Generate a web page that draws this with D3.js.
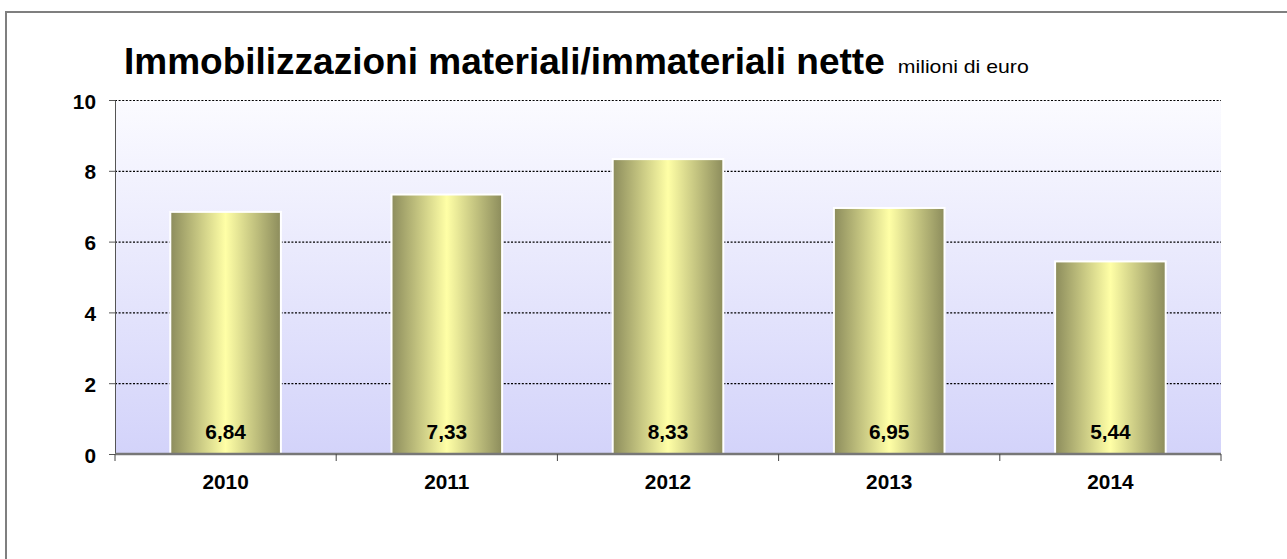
<!DOCTYPE html>
<html>
<head>
<meta charset="utf-8">
<script src="https://cdn.jsdelivr.net/npm/d3@7"></script>
<style>
  body { margin:0; background:#fff; }
  svg { display:block; font-family: "Liberation Sans", Arial, sans-serif; }
</style>
</head>
<body>
<div id="vis-container"></div>
<script>
//data
let years = ["2010", "2011", "2012", "2013", "2014"];
let values = [6.84, 7.33, 8.33, 6.95, 5.44];
let yTicks = [0, 2, 4, 6, 8, 10];

let W = 1287, H = 559;
let margin = {top:100, right:66, bottom:105, left:115};
let width = W - margin.left - margin.right;
let height = 454 - margin.top;
let sx = 1.04; //small labels look a bit wider in the original

let svg = d3.select("#vis-container")
  .append("svg")
  .attr("width", W)
  .attr("height", H);

let defs = svg.append("defs");

//plot background
let bg = defs.append("linearGradient").attr("id","bg")
  .attr("x1",0).attr("y1",0).attr("x2",0).attr("y2",1);
bg.append("stop").attr("offset","0%").attr("stop-color","#fbfbff");
bg.append("stop").attr("offset","100%").attr("stop-color","#d3d3fa");

//bar gradient
let bar = defs.append("linearGradient").attr("id","bar")
  .attr("x1",0).attr("y1",0).attr("x2",1).attr("y2",0);
bar.append("stop").attr("offset","0%").attr("stop-color","#8c8c5c");
bar.append("stop").attr("offset","50%").attr("stop-color","#ffffa6");
bar.append("stop").attr("offset","100%").attr("stop-color","#8c8c5c");

//outer frame
svg.append("rect")
  .attr("x",6).attr("y",12)
  .attr("width",W).attr("height",H)
  .attr("fill","none")
  .attr("stroke","#7f7f7f")
  .attr("stroke-width",2);

//title
let title = svg.append("text")
  .attr("x",124).attr("y",74)
  .attr("font-size","37px")
  .attr("font-weight","bold")
  .attr("fill","#000")
  .text("Immobilizzazioni materiali/immateriali nette");
let titleEnd = 124 + title.node().getComputedTextLength();

svg.append("text")
  .attr("transform",`translate(${titleEnd+13},73) scale(1.18,1)`)
  .attr("font-size","18px")
  .attr("fill","#000")
  .text("milioni di euro");

let g = svg.append("g")
  .attr("transform", `translate(${margin.left}, ${margin.top})`);

//scales
let x = d3.scaleBand()
  .domain(years)
  .range([0,width])
  .paddingInner(0.5)
  .paddingOuter(0.25);

let y = d3.scaleLinear()
  .domain([0,10])
  .range([height,0]);

g.append("rect")
  .attr("width",width).attr("height",height)
  .attr("fill","url(#bg)");

//grid lines
g.selectAll("line.grid")
  .data(yTicks.filter(d=>d>0))
  .enter().append("line")
  .attr("class","grid")
  .attr("x1",0).attr("x2",width)
  .attr("y1",d=>y(d)+0.5).attr("y2",d=>y(d)+0.5)
  .attr("stroke","#000")
  .attr("stroke-width",1.2)
  .attr("stroke-dasharray","2,1.6");

//bars
g.selectAll("rect.bar")
  .data(values)
  .enter().append("rect")
  .attr("class","bar")
  .attr("x",(d,i)=>x(years[i]))
  .attr("y",d=>y(d))
  .attr("width",x.bandwidth())
  .attr("height",d=>height-y(d))
  .attr("fill","url(#bar)")
  .attr("stroke","#fff")
  .attr("stroke-width",2);

//value labels
g.selectAll("text.val")
  .data(values)
  .enter().append("text")
  .attr("class","val")
  .attr("transform",(d,i)=>`translate(${x(years[i])+x.bandwidth()/2},${height-15}) scale(${sx},1)`)
  .attr("text-anchor","middle")
  .attr("font-size","20px")
  .attr("font-weight","bold")
  .text(d=>d3.format(".2f")(d).replace(".",","));

//y axis
let yAxis = d3.axisLeft(y)
  .tickValues(yTicks)
  .tickSize(6);
let yAxisGroup = g.append("g").call(yAxis);
yAxisGroup.select(".domain").attr("stroke","#555");
yAxisGroup.selectAll(".tick line").attr("stroke","#555");
yAxisGroup.selectAll(".tick text")
  .attr("x",null).attr("dy",null)
  .attr("transform",`translate(-19,8) scale(${sx},1)`)
  .attr("font-size","20px")
  .attr("font-weight","bold")
  .attr("font-family","Liberation Sans, Arial, sans-serif")
  .attr("fill","#000");

//x axis
let xAxisGroup = g.append("g")
  .attr("transform",`translate(0,${height})`);
xAxisGroup.append("line")
  .attr("x1",0).attr("x2",width)
  .attr("stroke","#777").attr("stroke-width",2.5);
let step = width/years.length;
xAxisGroup.selectAll("line.tk")
  .data(d3.range(years.length+1))
  .enter().append("line")
  .attr("class","tk")
  .attr("x1",d=>d*step).attr("x2",d=>d*step)
  .attr("y1",0).attr("y2",7)
  .attr("stroke","#444");
xAxisGroup.selectAll("text")
  .data(years)
  .enter().append("text")
  .attr("transform",d=>`translate(${x(d)+x.bandwidth()/2},35) scale(${sx},1)`)
  .attr("text-anchor","middle")
  .attr("font-size","20px")
  .attr("font-weight","bold")
  .text(d=>d);
</script>
</body>
</html>
